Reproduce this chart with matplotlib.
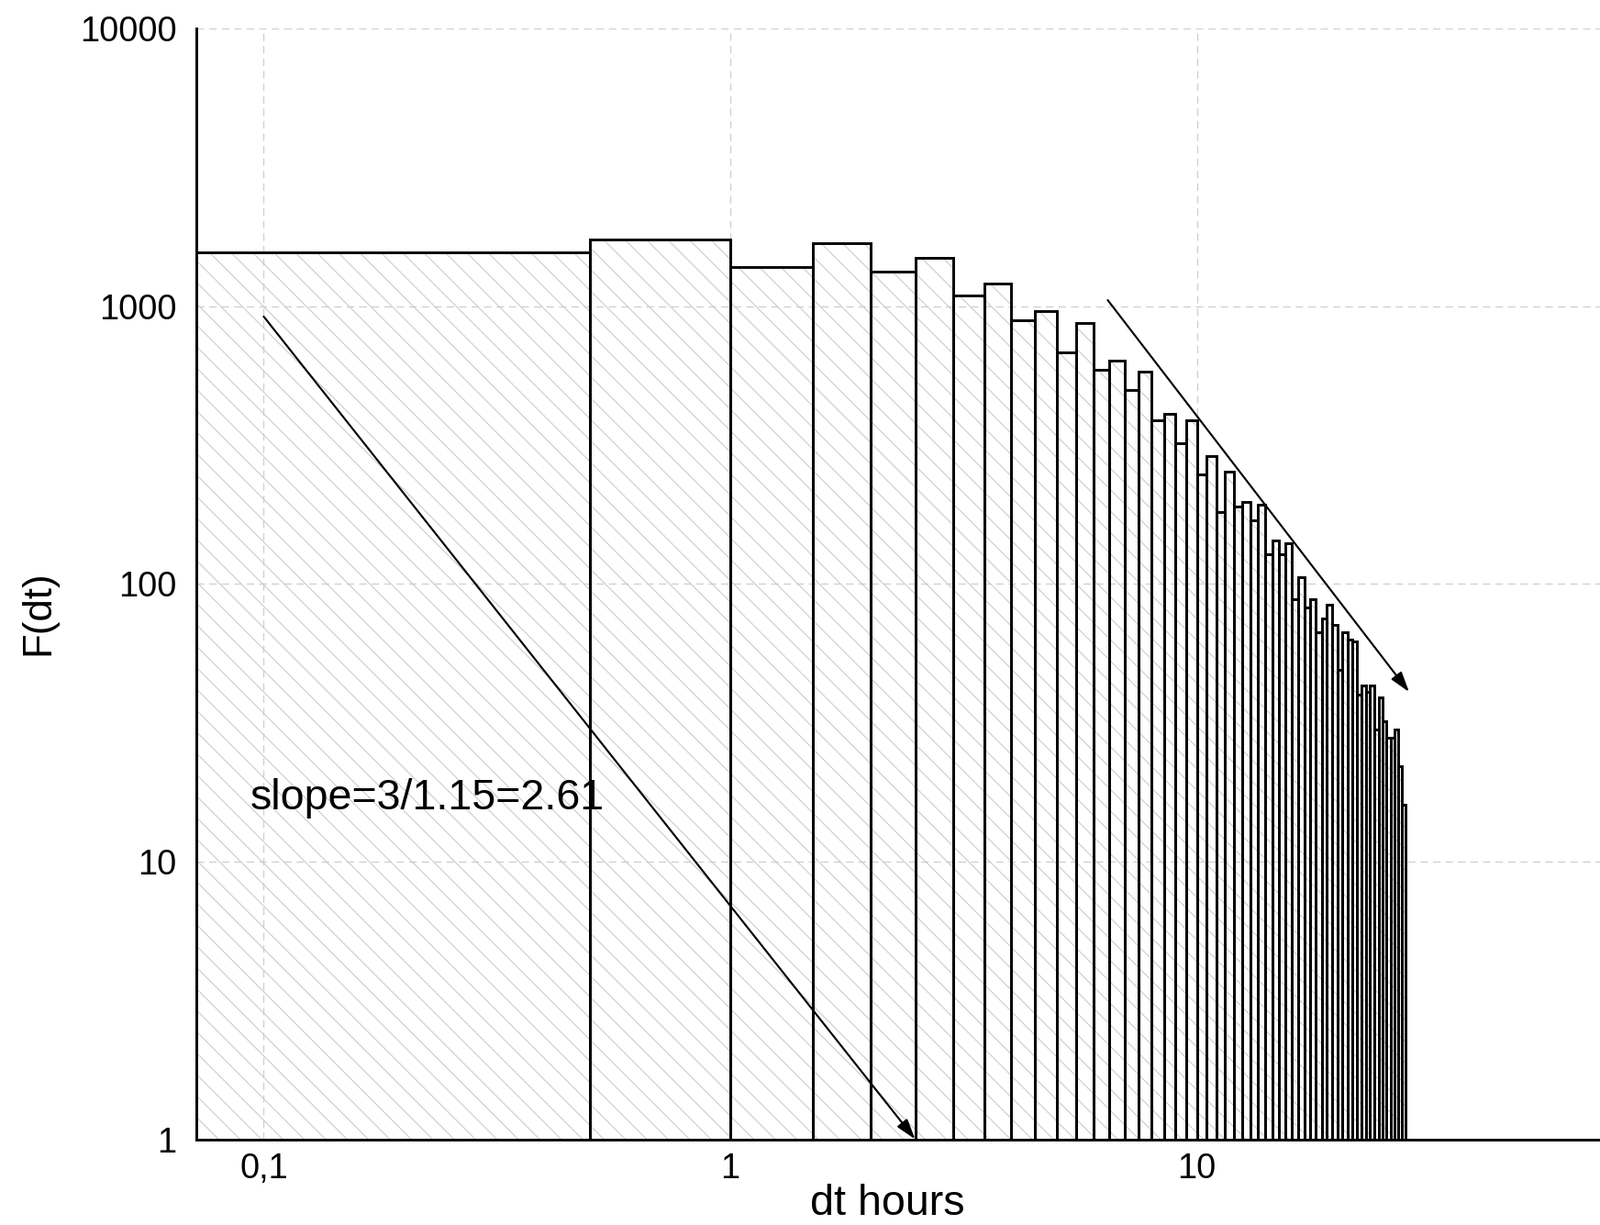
import numpy as np
import matplotlib
matplotlib.use('Agg')
import matplotlib.pyplot as plt
from matplotlib.ticker import FixedLocator, FixedFormatter, NullLocator

plt.rcParams['font.family'] = ['Liberation Sans', 'DejaVu Sans']
plt.rcParams['hatch.linewidth'] = 0.55

# histogram of dt (0.5 h bins), counts
bin_width = 0.5
bin_left = np.arange(0, 28, bin_width)
counts = [1567, 1734, 1380, 1683, 1331, 1489, 1092, 1209, 887, 957,
          680, 873, 591, 638, 498, 582, 387, 411, 320, 387,
          248, 289, 181, 254, 190, 198, 169, 193, 128, 143,
          128, 140, 88, 106, 82, 88, 67, 75, 84, 71,
          49, 67, 63, 62, 40, 43, 41, 43, 30, 39,
          32, 28, 28, 30, 22, 16]

x_ticks = [0.1, 1, 10]
x_tick_labels = ['0,1', '1', '10']
y_ticks = [1, 10, 100, 1000, 10000]
y_tick_labels = ['1', '10', '100', '1000', '10000']

# slope arrows (data coords)
arrow1_start = (0.1, 918)
arrow1_end = (2.49, 1)
arrow2_start = (6.44, 1052)
arrow2_end = (28.5, 40.8)
slope_text = 'slope=3/1.15=2.61'

DPI = 140
fig = plt.figure(figsize=(1744 / DPI, 1335 / DPI), dpi=DPI)
ax = fig.add_axes([0.1227, 0.0700, 0.8773, 0.9067])
ax.set_xscale('log')
ax.set_yscale('log')

# hatch layer + outline layer
ax.bar(bin_left, counts, width=bin_width, align='edge', fill=False,
       hatch='\\\\', edgecolor='#cacaca', linewidth=0, zorder=1)
ax.bar(bin_left, counts, width=bin_width, align='edge', fill=False,
       edgecolor='black', linewidth=1.5, zorder=2)

ax.set_xlim(0.0717, 73.1)
ax.set_ylim(1, 10000)

ax.xaxis.set_major_locator(FixedLocator(x_ticks))
ax.xaxis.set_major_formatter(FixedFormatter(x_tick_labels))
ax.yaxis.set_major_locator(FixedLocator(y_ticks))
ax.yaxis.set_major_formatter(FixedFormatter(y_tick_labels))
ax.xaxis.set_minor_locator(NullLocator())
ax.yaxis.set_minor_locator(NullLocator())
ax.tick_params(axis='both', length=0, labelsize=19.5)
ax.tick_params(axis='x', pad=7.5)
ax.tick_params(axis='y', pad=11)

for s in ['top', 'right']:
    ax.spines[s].set_visible(False)
for s in ['left', 'bottom']:
    ax.spines[s].set_linewidth(1.5)

ax.set_axisbelow(True)
ax.grid(True, which='major', color='#d0d0d0', linestyle=(0, (6, 4)), linewidth=0.7)

ax.set_xlabel('dt hours', fontsize=24, va='baseline')
ax.xaxis.set_label_coords(0.492, -0.0682)
ax.set_ylabel('F(dt)', fontsize=22.5, va='center', ha='center')
ax.yaxis.set_label_coords(-0.1124, 0.4738)

aprops = dict(arrowstyle='-|>,head_length=0.8,head_width=0.25', color='black',
              lw=1.1, shrinkA=0, shrinkB=0, mutation_scale=12)
ax.annotate('', xy=arrow1_end, xytext=arrow1_start, arrowprops=aprops, zorder=3)
ax.annotate('', xy=arrow2_end, xytext=arrow2_start, arrowprops=aprops, zorder=3)

ax.text(0.0936, 15.47, slope_text, fontsize=24, ha='left', va='baseline', zorder=4)

fig.savefig('out.png', dpi=DPI)
